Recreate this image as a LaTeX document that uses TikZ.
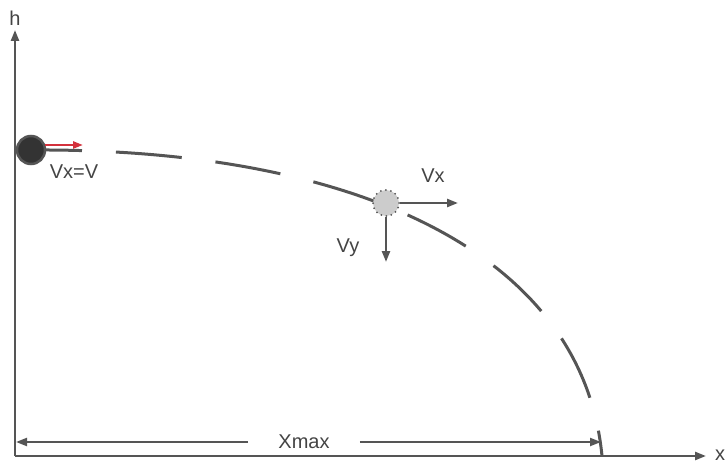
\documentclass[tikz,border=0pt]{standalone}
\usepackage{fontspec}
\setmainfont{Liberation Sans}
\usetikzlibrary{arrows.meta}
\definecolor{ink}{HTML}{555555}
\definecolor{txt}{HTML}{444444}
\definecolor{redv}{HTML}{D3313C}
\definecolor{ballc}{HTML}{333333}
\definecolor{grayball}{HTML}{CCCCCC}
\begin{document}
\begin{tikzpicture}[x=1pt,y=-1pt,
  tip/.style={-{Triangle[length=11pt,width=8pt]}},
  axis/.style={draw=ink,line width=2.4pt,tip},
  lbl/.style={text=txt,font=\fontsize{20}{24}\selectfont,inner sep=0pt},
  traj/.style={draw=ink,line width=3pt,dash pattern=on 66pt off 34pt,dash phase=15pt},
  vec/.style={draw=ink,line width=2.4pt,tip}]
\useasboundingbox (0,0) rectangle (728,465);
% axes
\coordinate (O) at (15,456);
\coordinate (Ytop) at (15,30);
\coordinate (Xend) at (706,456);
\draw[axis] (O) -- (Ytop);
\draw[axis] (O) -- (Xend);
\node[lbl] (hlab) at (15,18) {h};
\node[lbl] (xlab) at (720,455) {x};
% trajectory
\coordinate (S) at (31,150);
\coordinate (E) at (602,456);
\draw[traj] (S) .. controls (350,148) and (582,250) .. (E);
% launched ball
\node[circle,minimum size=28pt,inner sep=0pt,fill=ballc,draw=ink,line width=2.5pt] (ball) at (S) {};
\coordinate (Rend) at (83,145);
\draw[draw=redv,line width=2.4pt,-{Triangle[length=10pt,width=7pt]}] (45,145) -- (Rend);
\node[lbl] (vxv) at (74,172) {Vx=V};
% ball on the path
\node[circle,minimum size=26pt,inner sep=0pt,fill=grayball,draw=ink,line width=2pt,line cap=round,dash pattern=on 0pt off 5.1pt] (b2) at (386,203) {};
\coordinate (VxEnd) at (458,203);
\coordinate (VyEnd) at (386,262);
\draw[vec] (b2.east) -- (VxEnd);
\draw[vec] (b2.south) -- (VyEnd);
\node[lbl] (vxl) at (433,176) {Vx};
\node[lbl] (vyl) at (348,248) {Vy};
% Xmax dimension
\coordinate (L) at (16,442);
\coordinate (R) at (601,442);
\node[lbl,inner xsep=30pt] (xmax) at (304,442) {Xmax};
\draw[vec,line width=2.2pt] (xmax.west) -- (L);
\draw[vec,line width=2.2pt] (xmax.east) -- (R);
\end{tikzpicture}
\end{document}
